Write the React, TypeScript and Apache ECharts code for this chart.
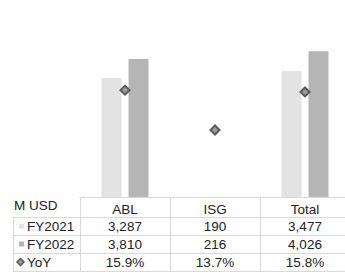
import React, { useEffect, useRef } from "react";
import * as echarts from "echarts";

const categories = ["ABL", "ISG", "Total"];
const fy2021 = [3287, 190, 3477];
const fy2022 = [3810, 216, 4026];
const yoy = [15.9, 13.7, 15.8];
// bars drawn in the reference chart (ISG bars are not plotted there)
const barShown = [true, false, true];
const rowNames = ["FY2021", "FY2022", "YoY"];
const unitLabel = "M USD";

const FONT = "'Liberation Sans', Arial, sans-serif";
const TXT = "#222222";
const C21 = "#e3e3e3";
const C22 = "#b5b5b5";
const LINE = "#d9d9d9";

const fmtNum = (v: number) => v.toLocaleString("en-US");
const fmtPct = (v: number) => v.toFixed(1) + "%";

export default function App() {
  const ref = useRef<HTMLDivElement>(null);
  useEffect(() => {
    if (!ref.current) return;
    const chart = echarts.init(ref.current, null, { renderer: "svg" });
    const gridLeft = 80;
    const gridWidth = 270;
    const gridTop = 34;
    const gridHeight = 163;
    chart.setOption({
      animation: false,
      grid: { left: gridLeft, width: gridWidth, top: gridTop, height: gridHeight },
      xAxis: {
        type: "category",
        data: categories,
        axisLine: { show: true, lineStyle: { color: LINE, width: 1 } },
        axisTick: { show: false },
        axisLabel: { show: false },
      },
      yAxis: [
        { type: "value", min: 0, max: 4500, show: false, splitLine: { show: false } },
        { type: "value", min: 10, max: 19, show: false, splitLine: { show: false } },
      ],
      series: [
        {
          type: "bar",
          name: "FY2021",
          data: fy2021.map((v, i) => (barShown[i] ? v : null)),
          barWidth: 20,
          barGap: "35%",
          itemStyle: { color: C21 },
        },
        {
          type: "bar",
          name: "FY2022",
          data: fy2022.map((v, i) => (barShown[i] ? v : null)),
          barWidth: 20,
          itemStyle: { color: C22 },
        },
        {
          type: "line",
          name: "YoY",
          yAxisIndex: 1,
          data: yoy,
          lineStyle: { opacity: 0 },
          symbol: "diamond",
          symbolSize: 9,
          itemStyle: { color: "#9a9a9a", borderColor: "#5a5a5a", borderWidth: 2 },
          z: 5,
        },
      ],
    });

    // Data table under the plot
    const colW = gridWidth / categories.length;
    const centers = categories.map((_, i) => chart.convertToPixel({ xAxisIndex: 0 }, i) as number);
    const baseY = gridTop + gridHeight;
    const rowLines = [217, 235, 253, 271];
    const rowCenters = [226, 244, 262];
    const headerY = 208;
    const els: any[] = [];
    const textStyle = (t: string, x: number, y: number, align = "center") => ({
      type: "text",
      x,
      y,
      style: { text: t, fill: TXT, font: `13.5px ${FONT}`, align, verticalAlign: "middle" },
    });
    rowLines.forEach((y) =>
      els.push({ type: "line", shape: { x1: 13, y1: y + 0.5, x2: 355, y2: y + 0.5 }, style: { stroke: LINE, lineWidth: 1 } })
    );
    els.push({ type: "line", shape: { x1: 13.5, y1: rowLines[0], x2: 13.5, y2: rowLines[3] }, style: { stroke: LINE, lineWidth: 1 } });
    for (let i = 0; i <= categories.length; i++) {
      const x = Math.round(centers[0] - colW / 2 + i * colW) + 0.5;
      els.push({ type: "line", shape: { x1: x, y1: baseY, x2: x, y2: rowLines[3] }, style: { stroke: LINE, lineWidth: 1 } });
    }
    els.push(textStyle(unitLabel, 14, headerY - 3, "left"));
    categories.forEach((c, i) => els.push(textStyle(c, centers[i], headerY + 1)));
    els.push({ type: "rect", shape: { x: 19, y: rowCenters[0] - 2.5, width: 5, height: 5 }, style: { fill: C21 } });
    els.push({ type: "rect", shape: { x: 19, y: rowCenters[1] - 2.5, width: 5, height: 5 }, style: { fill: C22 } });
    els.push({
      type: "polygon",
      shape: { points: [[20.5, rowCenters[2] - 3.5], [24, rowCenters[2]], [20.5, rowCenters[2] + 3.5], [17, rowCenters[2]]] },
      style: { fill: "#9a9a9a", stroke: "#5a5a5a", lineWidth: 1.5 },
    });
    rowNames.forEach((n, r) => els.push(textStyle(n, 27, rowCenters[r], "left")));
    categories.forEach((_, i) => {
      els.push(textStyle(fmtNum(fy2021[i]), centers[i], rowCenters[0]));
      els.push(textStyle(fmtNum(fy2022[i]), centers[i], rowCenters[1]));
      els.push(textStyle(fmtPct(yoy[i]), centers[i], rowCenters[2]));
    });
    chart.setOption({ graphic: els });
    return () => chart.dispose();
  }, []);
  return (
    <div style={{ position: "absolute", left: 0, top: 0, width: 345, height: 280, overflow: "hidden" }}>
      <div ref={ref} style={{ width: 355, height: 280 }} />
    </div>
  );
}
